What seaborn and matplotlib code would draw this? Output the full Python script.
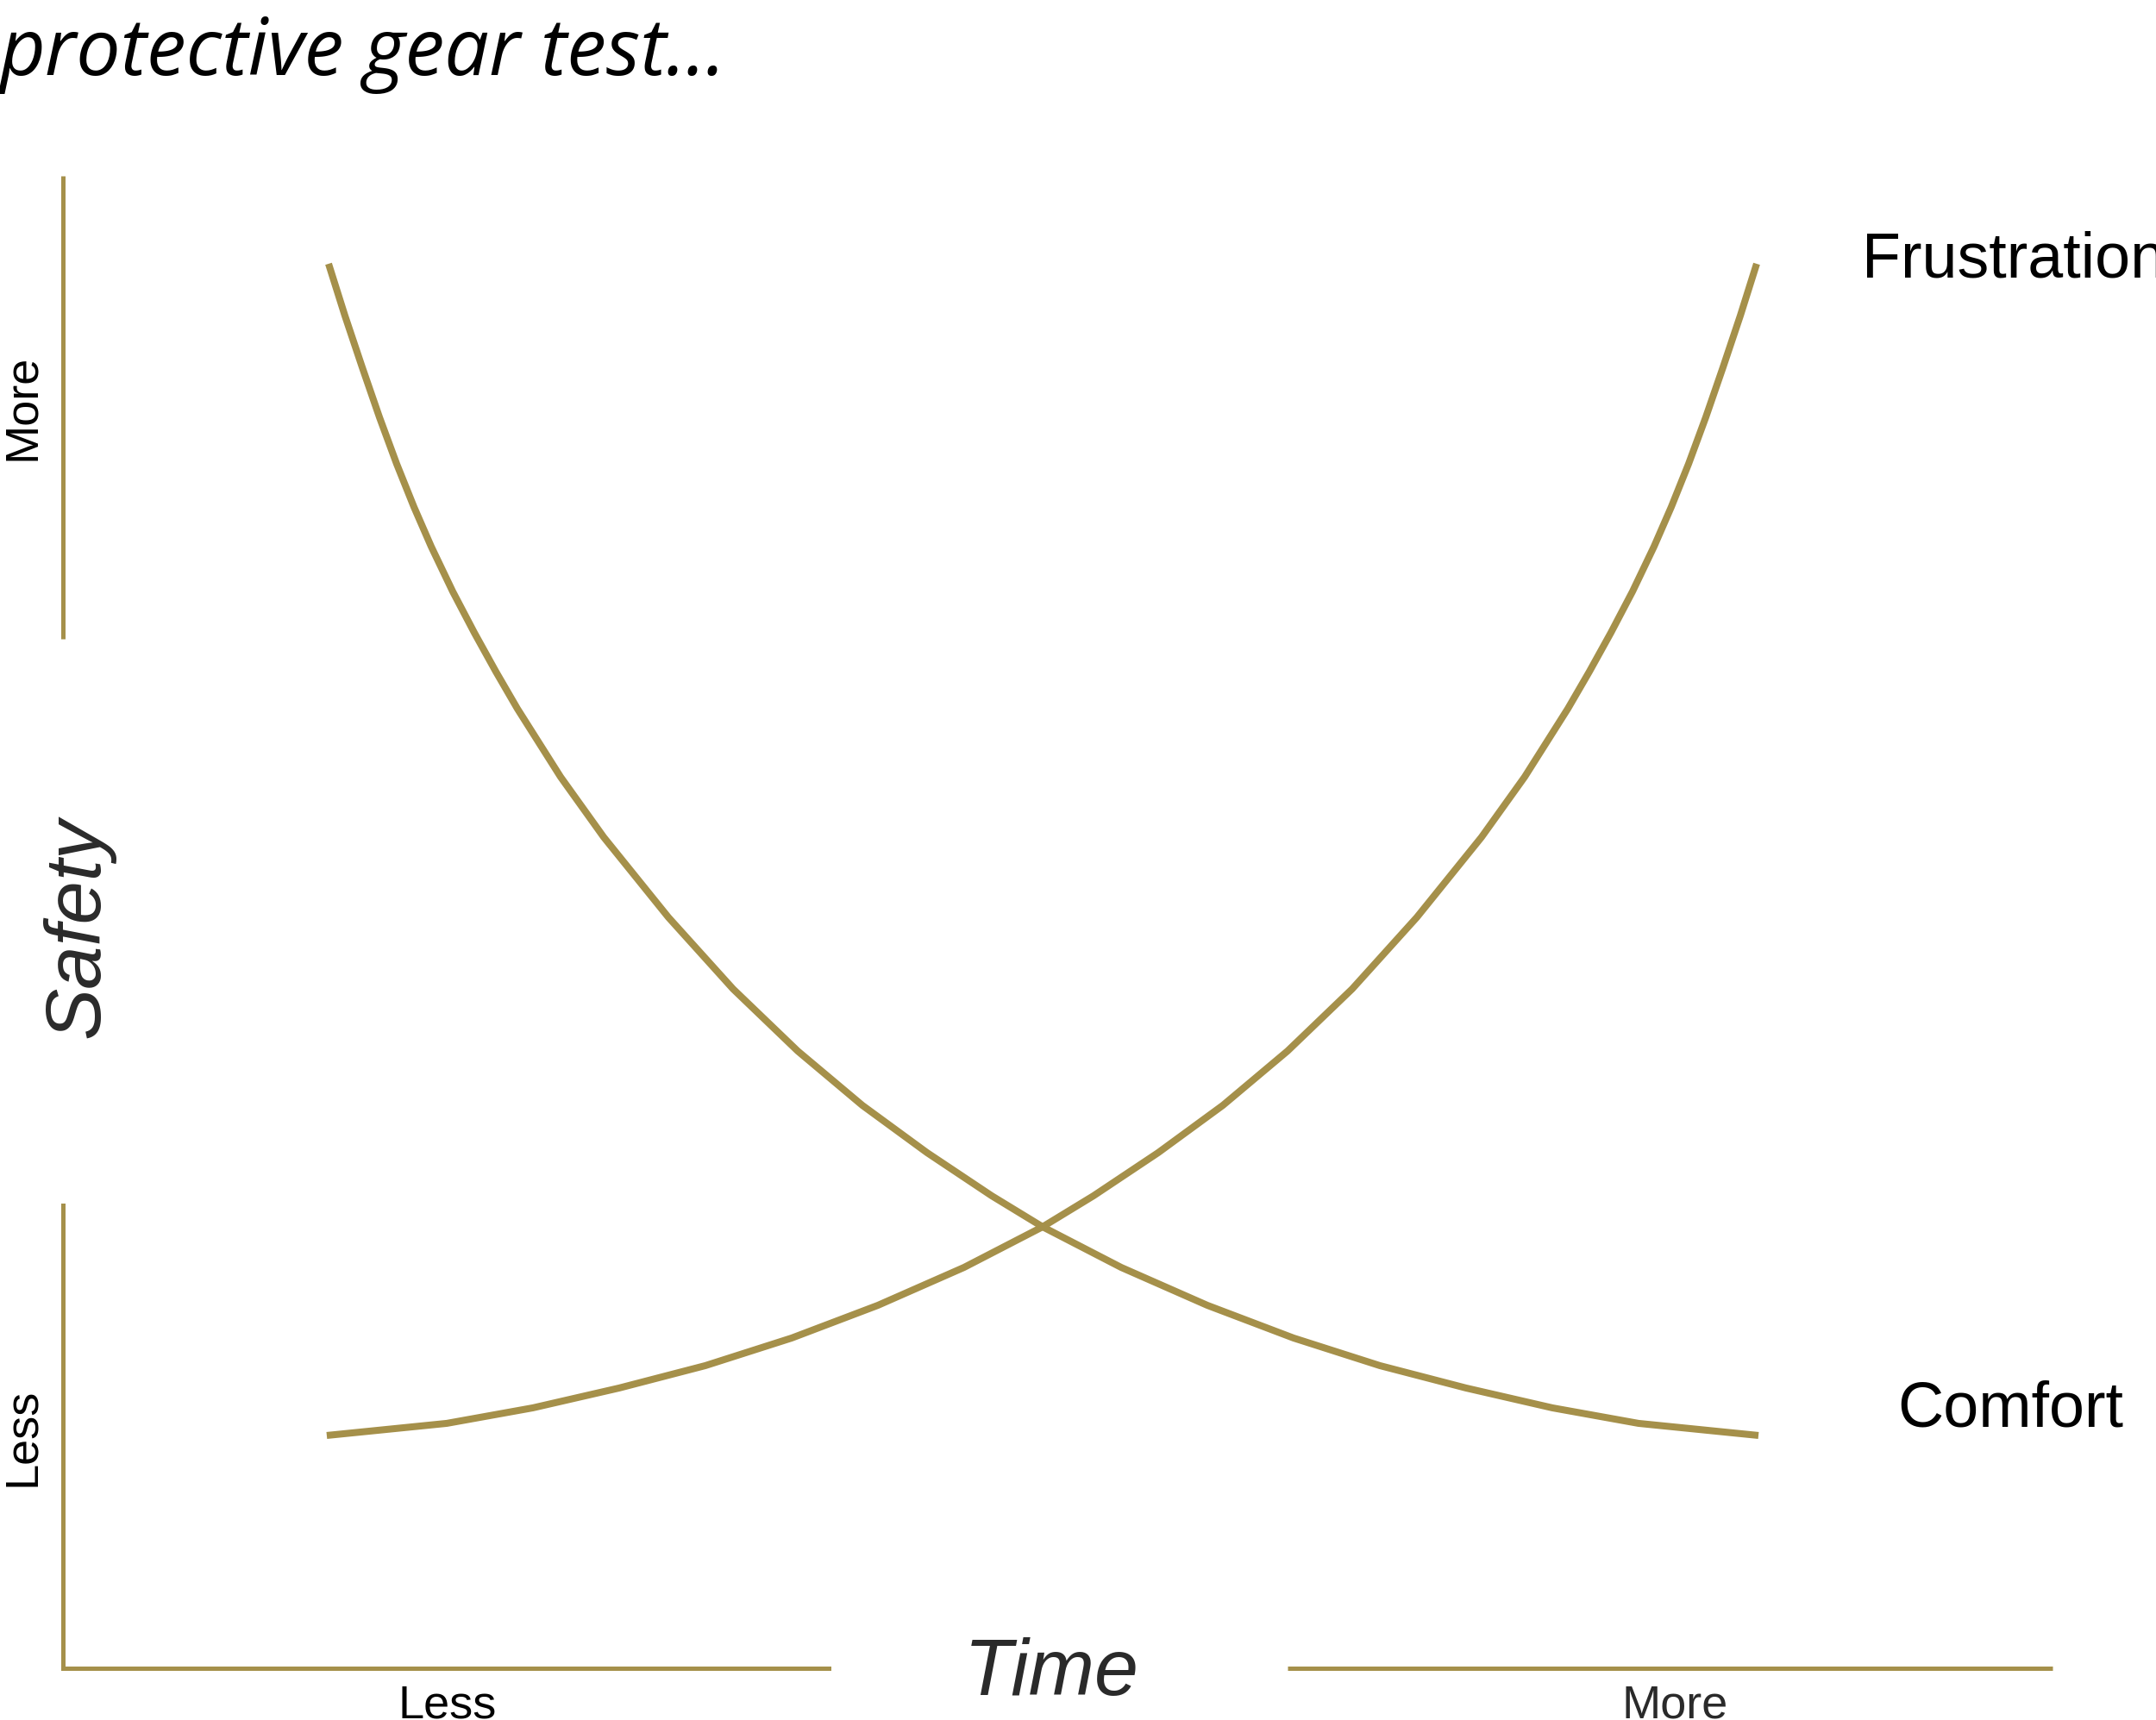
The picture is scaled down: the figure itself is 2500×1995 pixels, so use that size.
import matplotlib
matplotlib.use("Agg")
import matplotlib.pyplot as plt
import seaborn as sns
import pandas as pd
from matplotlib import font_manager

# values (time 0-100 along x, safety 0-100 along y)
comfort_time = [13.35, 14.17, 15.04, 15.91, 16.77, 17.64, 18.51, 19.59, 20.68, 21.76, 22.84, 25.01, 27.18, 30.43,
                33.68, 36.93, 40.18, 43.43, 46.68, 49.24, 53.19, 57.52, 61.85, 66.19, 70.52, 74.86, 79.19, 85.22]
comfort_safety = [94.11, 90.64, 87.18, 83.82, 80.71, 77.82, 75.16, 72.15, 69.38, 66.78, 64.30, 59.73, 55.69, 50.32,
                  45.52, 41.36, 37.72, 34.55, 31.66, 29.58, 26.86, 24.32, 22.13, 20.28, 18.78, 17.45, 16.41, 15.60]
frustration_time = [13.26, 19.29, 23.62, 27.96, 32.29, 36.63, 40.96, 45.29, 49.24, 51.80, 55.05, 58.30, 61.55, 64.80,
                    68.05, 71.30, 73.47, 75.64, 76.72, 77.80, 78.89, 79.97, 80.84, 81.71, 82.57, 83.44, 84.31, 85.13]
frustration_safety = [15.60, 16.41, 17.45, 18.78, 20.28, 22.13, 24.32, 26.86, 29.58, 31.66, 34.55, 37.72, 41.36, 45.52,
                      50.32, 55.69, 59.73, 64.30, 66.78, 69.38, 72.15, 75.16, 77.82, 80.71, 83.82, 87.18, 90.64, 94.11]
series_names = ["Comfort", "Frustration"]
title_text = "protective gear test..."
x_label = "Time"
y_label = "Safety"
low_label = "Less"
high_label = "More"

GOLD = "#a5904a"
DARK = "#2a2a2a"

df = pd.concat([
    pd.DataFrame({"time": comfort_time, "safety": comfort_safety, "series": series_names[0]}),
    pd.DataFrame({"time": frustration_time, "safety": frustration_safety, "series": series_names[1]}),
])

sns.set_style("white")
installed = {f.name for f in font_manager.fontManager.ttflist}
narrow = "Liberation Sans Narrow" if "Liberation Sans Narrow" in installed else "Liberation Sans"
plain = "Liberation Sans"
title_font = "Open Sans" if "Open Sans" in installed else "Lato"
plt.rcParams["font.family"] = [plain, "DejaVu Sans"]

fig = plt.figure(figsize=(25, 19.95), dpi=100)
ax = fig.add_axes([73 / 2500, 60 / 1995, 2307 / 2500, 1731 / 1995])

sns.lineplot(data=df, x="time", y="safety", hue="series", palette=[GOLD, GOLD],
             estimator=None, sort=False, legend=False, linewidth=5.8,
             solid_capstyle="butt", solid_joinstyle="round", ax=ax)

ax.set_xlim(0, 100)
ax.set_ylim(0, 100)
ax.set_axis_off()

# split axis lines
ax.axvline(0, ymin=0.69, ymax=1.0, color=GOLD, lw=3.6, solid_capstyle="butt", clip_on=False)
ax.axvline(0, ymin=0.0, ymax=0.31, color=GOLD, lw=3.6, solid_capstyle="projecting", clip_on=False)
ax.axhline(0, xmin=0.0, xmax=0.385, color=GOLD, lw=3.6, solid_capstyle="projecting", clip_on=False)
ax.axhline(0, xmin=0.6155, xmax=1.0, color=GOLD, lw=3.6, solid_capstyle="butt", clip_on=False)

# curve labels
ax.text(90.4, 93.2, series_names[1], fontsize=53, va="baseline", ha="left", color="black", clip_on=False)
ax.text(92.2, 16.2, series_names[0], fontsize=53, va="baseline", ha="left", color="black", clip_on=False)

# axis labels
ax.text(49.7, -1.8, x_label, fontsize=66, family=narrow, style="italic", color=DARK,
        ha="center", va="baseline", clip_on=False)
ax.text(1.8, 49.6, y_label, fontsize=65, family=narrow, style="italic", color=DARK,
        ha="center", va="baseline", rotation=90, rotation_mode="anchor", clip_on=False)

ax.text(19.3, -3.3, low_label, fontsize=39, color="black", ha="center", va="baseline", clip_on=False)
ax.text(81.0, -3.3, high_label, fontsize=39, color=DARK, ha="center", va="baseline", clip_on=False)
ax.text(-1.43, 84.5, high_label, fontsize=39, color="black", ha="center", va="baseline",
        rotation=90, rotation_mode="anchor", clip_on=False)
ax.text(-1.43, 15.5, low_label, fontsize=39, color="black", ha="center", va="baseline",
        rotation=90, rotation_mode="anchor", clip_on=False)

fig.text(0.0, 1 - 87 / 1995, title_text, fontsize=66, family=title_font, style="italic",
         color="black", ha="left", va="baseline")

fig.savefig("out.png", dpi=100, facecolor="white")
